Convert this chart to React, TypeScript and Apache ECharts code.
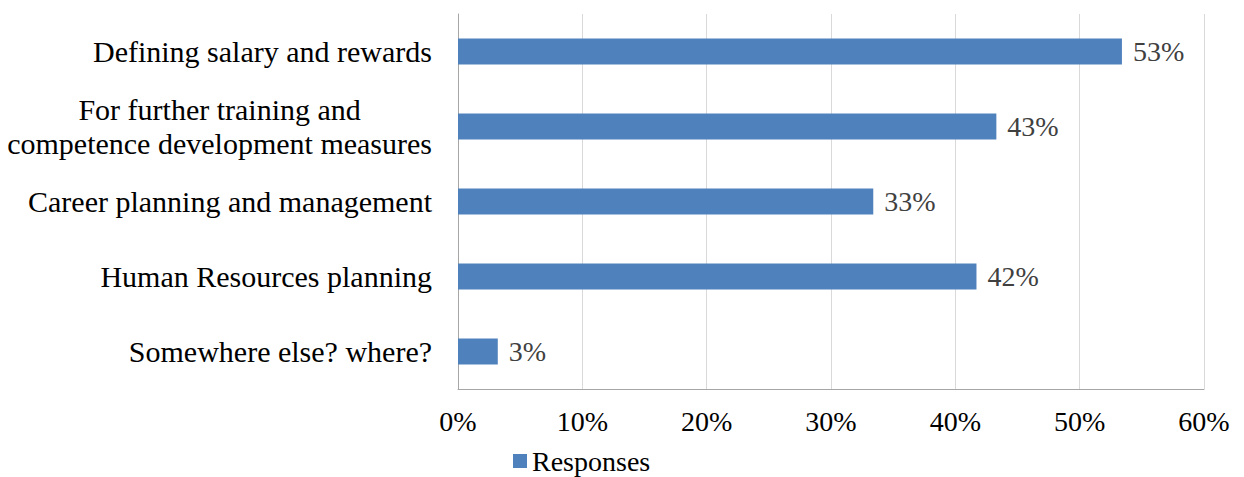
import React, { useEffect, useRef } from "react";
import * as echarts from "echarts";

const categories = [
  "Defining salary and rewards",
  "For further training and\ncompetence development measures",
  "Career planning and management",
  "Human Resources planning",
  "Somewhere else? where?",
];
const responses = [53.4, 43.3, 33.4, 41.7, 3.2];
const seriesName = "Responses";

const FONT = '"Liberation Serif", "Times New Roman", serif';

export default function App() {
  const ref = useRef<HTMLDivElement>(null);
  useEffect(() => {
    if (!ref.current) return;
    const chart = echarts.init(ref.current, undefined, { renderer: "svg" });
    chart.setOption({
      animation: false,
      backgroundColor: "#ffffff",
      grid: { left: 458, right: 40, top: 14, bottom: 88, containLabel: false },
      legend: {
        data: [seriesName],
        left: 508,
        top: 442,
        icon: "rect",
        itemWidth: 14,
        itemHeight: 14,
        itemGap: 6,
        textStyle: { fontFamily: FONT, fontSize: 28, color: "#000000" },
      },
      xAxis: {
        type: "value",
        min: 0,
        max: 60,
        interval: 10,
        axisLine: { show: true, lineStyle: { color: "#a6a6a6", width: 1 } },
        axisTick: { show: false },
        splitLine: { show: true, lineStyle: { color: "#d9d9d9", width: 1 } },
        axisLabel: {
          formatter: "{value}%",
          fontFamily: FONT,
          fontSize: 28,
          color: "#000000",
          margin: 18,
        },
      },
      yAxis: {
        type: "category",
        inverse: true,
        data: categories,
        axisLine: { show: true, lineStyle: { color: "#a6a6a6", width: 1 } },
        axisTick: { show: false },
        splitLine: { show: false },
        axisLabel: {
          margin: 26,
          fontFamily: FONT,
          fontSize: 30,
          color: "#000000",
          formatter: (v: string) =>
            v
              .split("\n")
              .map((l) => "{c|" + l + "}")
              .join("\n"),
          rich: {
            c: {
              fontFamily: FONT,
              fontSize: 30,
              color: "#000000",
              align: "center",
              lineHeight: 34,
            },
          },
        },
      },
      series: [
        {
          name: seriesName,
          type: "bar",
          data: responses,
          barWidth: 26,
          itemStyle: { color: "#4f81bd" },
          label: {
            show: true,
            position: "right",
            distance: 11,
            fontFamily: FONT,
            fontSize: 28,
            color: "#404040",
            formatter: (p: any) => Math.round(p.value) + "%",
          },
        },
      ],
    });
    return () => chart.dispose();
  }, []);
  return (
    <div
      ref={ref}
      style={{ position: "fixed", left: 0, top: 0, width: 1244, height: 477 }}
    />
  );
}
